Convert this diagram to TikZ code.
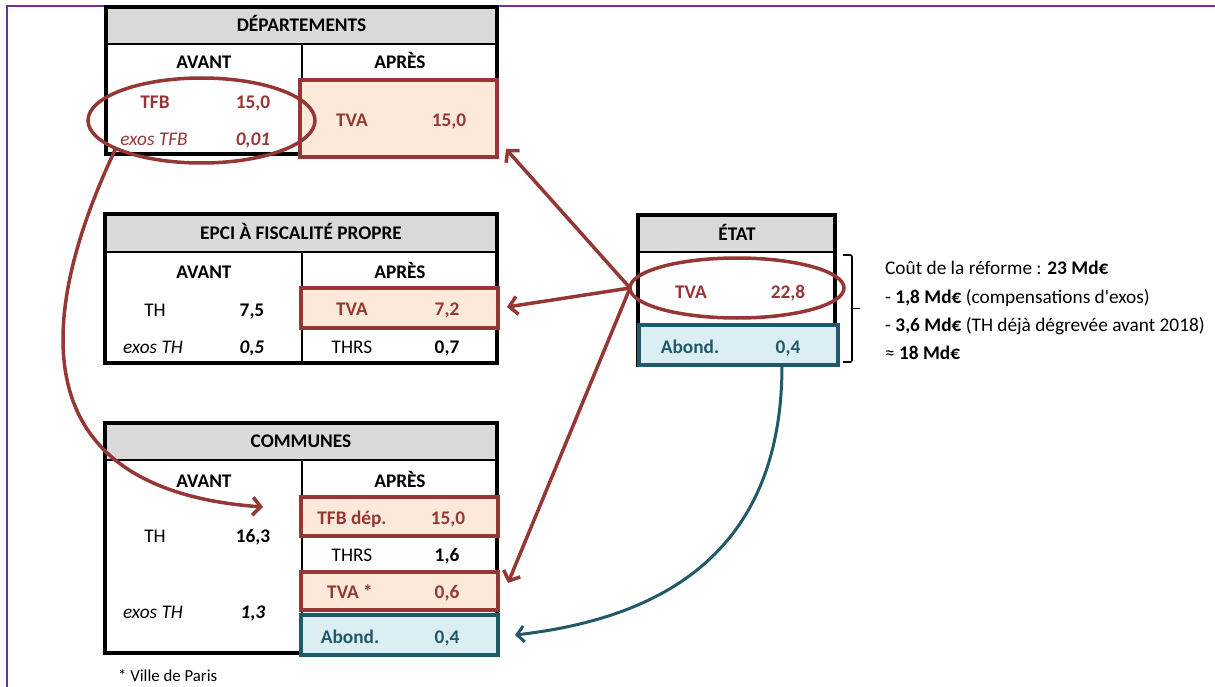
\documentclass[tikz,border=0pt]{standalone}
\usepackage{fontspec}
\setmainfont{Carlito}
\usetikzlibrary{arrows.meta,shapes.geometric,calc}
\definecolor{dred}{HTML}{953735}
\definecolor{peach}{HTML}{FDE9D9}
\definecolor{tealc}{HTML}{215968}
\definecolor{lblue}{HTML}{DAEEF3}
\definecolor{hgray}{HTML}{D9D9D9}
\definecolor{purp}{HTML}{7030A0}
\begin{document}
\begin{tikzpicture}[x=1pt,y=-1pt,
  txt/.style={font=\fontsize{19.3}{23}\selectfont, inner sep=0pt, text height=12.5pt, text depth=0pt},
  hd/.style={txt, font=\fontsize{19.3}{23}\selectfont\bfseries},
  bl/.style={txt, font=\fontsize{19.3}{23}\selectfont\bfseries},
  it/.style={txt, font=\fontsize{19.3}{23}\selectfont\itshape},
  bi/.style={txt, font=\fontsize{19.3}{23}\selectfont\bfseries\itshape},
  rb/.style={bl, text=dred},
  tb/.style={bl, text=tealc},
  redbox/.style={rectangle, draw=dred, fill=peach, line width=4pt, inner sep=0pt, outer sep=0pt},
  tealbox/.style={rectangle, draw=tealc, fill=lblue, line width=4pt, inner sep=0pt, outer sep=0pt},
  redell/.style={ellipse, draw=dred, line width=3.5pt, inner sep=0pt, outer sep=0pt},
  frameline/.style={line width=3.5pt, draw=black},
  innerline/.style={line width=2.2pt, draw=black},
  redarrow/.style={draw=dred, line width=3.5pt, -{Straight Barb[length=8pt,width=18pt]}},
  tealarrow/.style={draw=tealc, line width=3pt, -{Straight Barb[length=7pt,width=16pt]}},
]
\useasboundingbox (0,0) rectangle (1215,687);
% purple frame
\draw[purp, line width=2pt] (7,687) -- (7,6) -- (1215,6);

% ---------- DEPARTEMENTS table
\fill[hgray] (106,7) rectangle (497,44);
\draw[innerline] (106,44) -- (497,44);
\draw[innerline] (302,44) -- (302,154);
\draw[frameline] (106,7) rectangle (497,154);
\node[hd] (depH) at (301.5,25.5) {DÉPARTEMENTS};
\node[hd] (depAv) at (204,62) {AVANT};
\node[hd] (depAp) at (400,62) {APRÈS};
\node[redbox, minimum width=197pt, minimum height=77pt] (depTVA) at (398.5,118.5) {};
\node[rb] (depTVAl) at (352,120) {TVA};
\node[rb] (depTVAv) at (449,120) {15,0};
\node[rb] (depTFB) at (155,102) {TFB};
\node[rb] (depTFBv) at (253,102) {15,0};
\node[it, text=dred] (depEx) at (154,139) {exos TFB};
\node[bi, text=dred] (depExv) at (253,139) {0,01};
\node[redell, minimum width=227pt, minimum height=85pt] (depEll) at (201.5,120.5) {};

% ---------- EPCI table
\fill[hgray] (105,214) rectangle (497,252);
\draw[innerline] (105,252) -- (497,252);
\draw[innerline] (302,252) -- (302,363);
\draw[frameline] (105,214) rectangle (497,363);
\node[hd] (epH) at (301,233) {EPCI À FISCALITÉ PROPRE};
\node[hd] (epAv) at (204,272) {AVANT};
\node[hd] (epAp) at (400,272) {APRÈS};
\node[redbox, minimum width=197pt, minimum height=40pt] (epTVA) at (399.5,308) {};
\node[txt] (epTH) at (155,310) {TH};
\node[bl] (epTHv) at (252,310) {7,5};
\node[it] (epEx) at (153,347) {exos TH};
\node[bi] (epExv) at (252,347) {0,5};
\node[rb] (epTVAl) at (352,309) {TVA};
\node[rb] (epTVAv) at (447,309) {7,2};
\node[txt] (epTHRS) at (352,347) {THRS};
\node[bl] (epTHRSv) at (447,347) {0,7};

% ---------- COMMUNES table
\fill[hgray] (105,423) rectangle (497,460);
\draw[innerline] (105,460) -- (497,460);
\draw[innerline] (302,460) -- (302,653);
\draw[frameline] (105,423) rectangle (497,653);
\node[hd] (coH) at (301,441.5) {COMMUNES};
\node[hd] (coAv) at (204,481) {AVANT};
\node[hd] (coAp) at (400,481) {APRÈS};
\node[redbox, minimum width=197pt, minimum height=39pt] (coTFB) at (399.5,516.5) {};
\node[redbox, minimum width=197pt, minimum height=38pt] (coTVA) at (399.5,591) {};
\node[tealbox, minimum width=197pt, minimum height=40pt] (coAb) at (399.5,635) {};
\node[txt] (coTH) at (155,536) {TH};
\node[bl] (coTHv) at (253,536) {16,3};
\node[it] (coEx) at (153,612) {exos TH};
\node[bi] (coExv) at (253,612) {1,3};
\node[rb] (coTFBl) at (352,518) {TFB dép.};
\node[rb] (coTFBv) at (448,518) {15,0};
\node[txt] (coTHRS) at (352,555) {THRS};
\node[bl] (coTHRSv) at (447,555) {1,6};
\node[rb] (coTVAl) at (350,592) {TVA *};
\node[rb] (coTVAv) at (447,592) {0,6};
\node[tb] (coAbl) at (350,637) {Abond.};
\node[tb] (coAbv) at (447,637) {0,4};
\node[txt, anchor=west, font=\fontsize{16.8}{20}\selectfont, text height=10.5pt] (note) at (118,676) {* Ville de Paris};

% ---------- ETAT table
\fill[hgray] (638,215) rectangle (835,252);
\draw[innerline] (638,252) -- (835,252);
\draw[frameline] (638,215) rectangle (835,365);
\node[hd] (etH) at (737,234) {ÉTAT};
\node[tealbox, minimum width=199pt, minimum height=40pt] (etAb) at (738.5,345) {};
\node[rb] (etTVAl) at (691,292) {TVA};
\node[rb] (etTVAv) at (788,292) {22,8};
\node[tb] (etAbl) at (690,347) {Abond.};
\node[tb] (etAbv) at (788,347) {0,4};
\node[redell, minimum width=214pt, minimum height=60pt] (etEll) at (737,288) {};

% bracket
\draw[line width=1.6pt, black, rounded corners=2pt] (843,255) -- (852,255) -- (852,362) -- (843,362);
\draw[line width=1.6pt, black] (852,308.5) -- (860,308.5);

% side text
\node[txt, anchor=west] (s1) at (885,268) {Coût de la réforme : \textbf{23 Md€}};
\node[txt, anchor=west] (s2) at (885,297) {- \textbf{1,8 Md€} (compensations d\textquotesingle exos)};
\node[txt, anchor=west] (s3) at (885,325) {- \textbf{3,6 Md€} (TH déjà dégrevée avant 2018)};
\node[txt, anchor=west] (s4) at (885,353) {≈ \textbf{18 Md€}};

% ---------- arrows
\draw[redarrow] (depEll.198) .. controls (30,330) and (30,490) .. ($(coTFB.west)+(-38,-9.5)$);
\draw[redarrow] (etEll.west) -- ($(depTVA.south east)+(9,-8)$);
\draw[redarrow] (etEll.west) -- ($(epTVA.east)+(9,-1)$);
\draw[redarrow] (etEll.west) -- ($(coTVA.east)+(10,-8)$);
\draw[tealarrow] ($(etAb.south)+(43.5,0)$) .. controls (782,530) and (690,615) .. ($(coAb.east)+(17,0)$);
\end{tikzpicture}
\end{document}
